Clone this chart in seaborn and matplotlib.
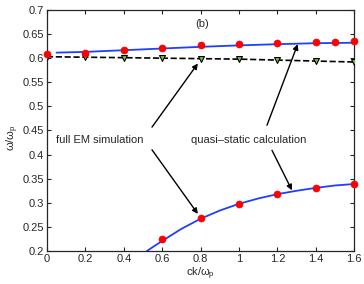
import numpy as np
import pandas as pd
import matplotlib
matplotlib.use("Agg")
import matplotlib.pyplot as plt
import seaborn as sns

# Full EM simulation (red dots)
em_up_x = [0.0, 0.2, 0.4, 0.6, 0.8, 1.0, 1.2, 1.4, 1.5, 1.6]
em_up_y = [0.608, 0.611, 0.616, 0.622, 0.627, 0.629, 0.632, 0.634, 0.634, 0.635]
em_lo_x = [0.6, 0.8, 1.0, 1.2, 1.4, 1.6]
em_lo_y = [0.224, 0.268, 0.298, 0.318, 0.331, 0.340]

# quasi-static calculation (blue curves)
qs_up_x = [0.05, 0.2, 0.4, 0.6, 0.8, 1.0, 1.2, 1.4, 1.6]
qs_up_y = [0.6115, 0.613, 0.6165, 0.620, 0.6235, 0.6265, 0.629, 0.631, 0.632]
qs_lo_x = [0.52, 0.6, 0.7, 0.8, 0.9, 1.0, 1.1, 1.2, 1.3, 1.4, 1.5, 1.6]
qs_lo_y = [0.200, 0.221, 0.246, 0.267, 0.284, 0.298, 0.309, 0.318, 0.325, 0.331, 0.336, 0.339]

# dashed line with triangles
tri_x = [0.0, 0.2, 0.4, 0.6, 0.8, 1.0, 1.2, 1.4, 1.6]
tri_y = [0.603, 0.602, 0.601, 0.600, 0.599, 0.598, 0.596, 0.594, 0.592]

sns.set_style("ticks")
plt.rcParams['font.family'] = ['Liberation Sans', 'DejaVu Sans']
plt.rcParams['mathtext.fontset'] = 'custom'
plt.rcParams['mathtext.rm'] = 'Liberation Sans'
plt.rcParams['mathtext.it'] = 'Liberation Sans'

fig = plt.figure(figsize=(3.64, 2.84), dpi=100)
ax = fig.add_axes([0.129, 0.116, 0.844, 0.849])

sns.lineplot(x=tri_x, y=tri_y, ax=ax, color='black', linestyle='--', lw=1.2)
sns.scatterplot(x=tri_x, y=tri_y, ax=ax, marker='v', color='#7fbf3f', edgecolor='black',
                linewidth=0.8, s=18, zorder=3)
sns.lineplot(x=qs_up_x, y=qs_up_y, ax=ax, color='#1f3fff', lw=1.3)
sns.lineplot(x=qs_lo_x, y=qs_lo_y, ax=ax, color='#1f3fff', lw=1.3)
sns.scatterplot(x=em_up_x, y=em_up_y, ax=ax, color='red', edgecolor='red', s=26, zorder=4, clip_on=False)
sns.scatterplot(x=em_lo_x, y=em_lo_y, ax=ax, color='red', edgecolor='red', s=26, zorder=4, clip_on=False)

ax.set_xlim(0, 1.6)
ax.set_ylim(0.2, 0.7)
ax.set_xticks(np.arange(0, 1.61, 0.2))
ax.set_xticklabels(['0', '0.2', '0.4', '0.6', '0.8', '1', '1.2', '1.4', '1.6'])
ax.set_yticks(np.arange(0.2, 0.701, 0.05))
ax.set_yticklabels(['0.2', '0.25', '0.3', '0.35', '0.4', '0.45', '0.5', '0.55', '0.6', '0.65', '0.7'])
ax.tick_params(direction='in', top=True, right=True, labelsize=8, length=3, width=0.8, pad=2)
for sp in ax.spines.values():
    sp.set_linewidth(0.9)

ax.set_xlabel(r'ck/$\omega_\mathrm{p}$', fontsize=8, labelpad=1)
ax.set_ylabel(r'$\omega/\omega_\mathrm{p}$', fontsize=8)
ax.yaxis.set_label_coords(-0.085, 0.47)

ax.text(0.81, 0.67, '(b)', fontsize=8, ha='center', va='center')
ax.text(0.276, 0.430, 'full EM simulation', fontsize=8, ha='center', va='center')
ax.text(1.049, 0.430, 'quasi\u2013static calculation', fontsize=8, ha='center', va='center')

arrowprops = dict(arrowstyle='-|>', color='black', lw=1.0, mutation_scale=8, shrinkA=0, shrinkB=0)
ax.annotate('', xy=(0.786, 0.589), xytext=(0.547, 0.457), arrowprops=arrowprops)
ax.annotate('', xy=(0.786, 0.277), xytext=(0.547, 0.410), arrowprops=arrowprops)
ax.annotate('', xy=(1.306, 0.629), xytext=(1.146, 0.461), arrowprops=arrowprops)
ax.annotate('', xy=(1.276, 0.326), xytext=(1.172, 0.409), arrowprops=arrowprops)

fig.savefig('out.png', dpi=100)
